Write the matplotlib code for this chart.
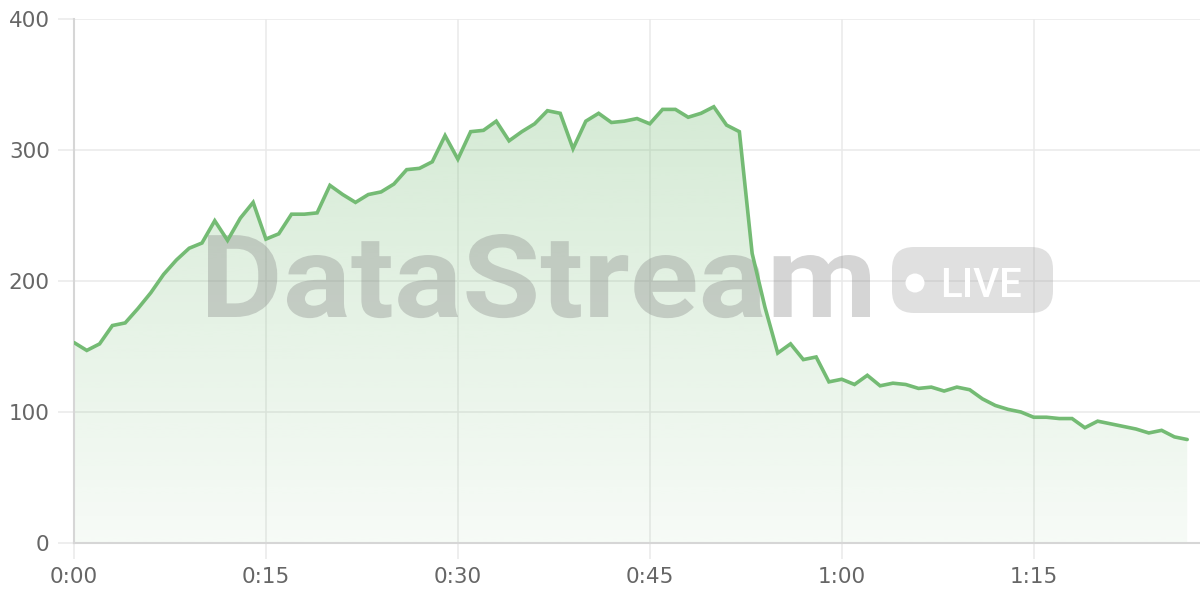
import matplotlib
matplotlib.use("Agg")
import matplotlib.pyplot as plt
import numpy as np
from matplotlib.colors import to_rgb
from matplotlib.font_manager import FontProperties
from matplotlib.patches import Circle, FancyBboxPatch, PathPatch
from matplotlib.textpath import TextPath
from matplotlib.transforms import Affine2D

# one sample per minute, 0:00 .. 1:27
minutes = list(range(88))
viewers = [153, 147, 152, 166, 168, 179, 191, 205, 216, 225,
           229, 246, 231, 248, 260, 232, 236, 251, 251, 252,
           273, 266, 260, 266, 268, 274, 285, 286, 291, 311,
           293, 314, 315, 322, 307, 314, 320, 330, 328, 301,
           322, 328, 321, 322, 324, 320, 331, 331, 325, 328,
           333, 319, 314, 221, 180, 145, 152, 140, 142, 123,
           125, 121, 128, 120, 122, 121, 118, 119, 116, 119,
           117, 110, 105, 102, 100, 96, 96, 95, 95, 88,
           93, 91, 89, 87, 84, 86, 81, 79]
x_ticks = [0, 15, 30, 45, 60, 75]
x_labels = [f"{m // 60}:{m % 60:02d}" for m in x_ticks]
y_ticks = [0, 100, 200, 300, 400]

LINE = "#74bb74"
GRID = "#e9e9e9"
AXIS = "#d6d6d6"
TEXT = "#666666"

fig = plt.figure(figsize=(12, 6), dpi=100)
ax = fig.add_axes([74 / 1200, 57 / 600, 1 - 74 / 1200, (543 - 19) / 600])

# gradient area under the line, clipped to the filled polygon
poly = ax.fill_between(minutes, viewers, 0, facecolor="none", edgecolor="none")
alpha = np.linspace(0.06, 0.30, 256)
rgba = np.zeros((256, 1, 4))
rgba[..., :3] = to_rgb(LINE)
rgba[:, 0, 3] = alpha
im = ax.imshow(rgba, extent=[0, minutes[-1], 0, max(viewers)], origin="lower",
               aspect="auto", zorder=1, interpolation="bilinear")
im.set_clip_path(poly.get_paths()[0], transform=ax.transData)

ax.plot(minutes, viewers, color=LINE, linewidth=2.6, zorder=4,
        solid_joinstyle="miter", solid_capstyle="round")

ax.set_xlim(0, 88)
ax.set_ylim(0, 400)
ax.set_xticks(x_ticks, x_labels)
ax.set_yticks(y_ticks)
ax.grid(color=GRID, linewidth=1.1)
ax.set_axisbelow(True)
for side in ("top", "right"):
    ax.spines[side].set_visible(False)
for side in ("left", "bottom"):
    ax.spines[side].set_color(AXIS)
    ax.spines[side].set_linewidth(1.5)
ax.tick_params(length=11.5, width=1.1, color=GRID, labelcolor=TEXT,
               labelsize=15.5, pad=6)

# watermark: text outline squeezed to the box it fills in the original
# (left 208px, width 662px, cap height 83px, baseline 283px from the bottom)
px = Affine2D().scale(1 / 100) + fig.dpi_scale_trans
word = TextPath((0, 0), "DataStream", size=100,
                prop=FontProperties(family="Roboto", weight="bold"))
ext = word.get_extents()
fit = (Affine2D().translate(-ext.x0, 0)
       .scale(662 / ext.width, 83 / ext.y1).translate(208, 283))
ax.add_patch(PathPatch(fit.transform_path(word), transform=px,
                       facecolor="#808080", edgecolor="none", alpha=0.33, zorder=2))

badge = FancyBboxPatch((892, 287), 161, 66, transform=px,
                       boxstyle="round,pad=0,rounding_size=22",
                       facecolor="#9a9a9a", edgecolor="none", alpha=0.3, zorder=2)
ax.add_patch(badge)
ax.add_patch(Circle((915, 317), 9.5, transform=px, facecolor="white",
                    edgecolor="none", zorder=3))
ax.text(940, 303, "LIVE", transform=px, ha="left", va="baseline",
        family="Roboto", fontweight="medium", fontsize=29, color="white", zorder=3)

fig.savefig("out.png", dpi=100)
